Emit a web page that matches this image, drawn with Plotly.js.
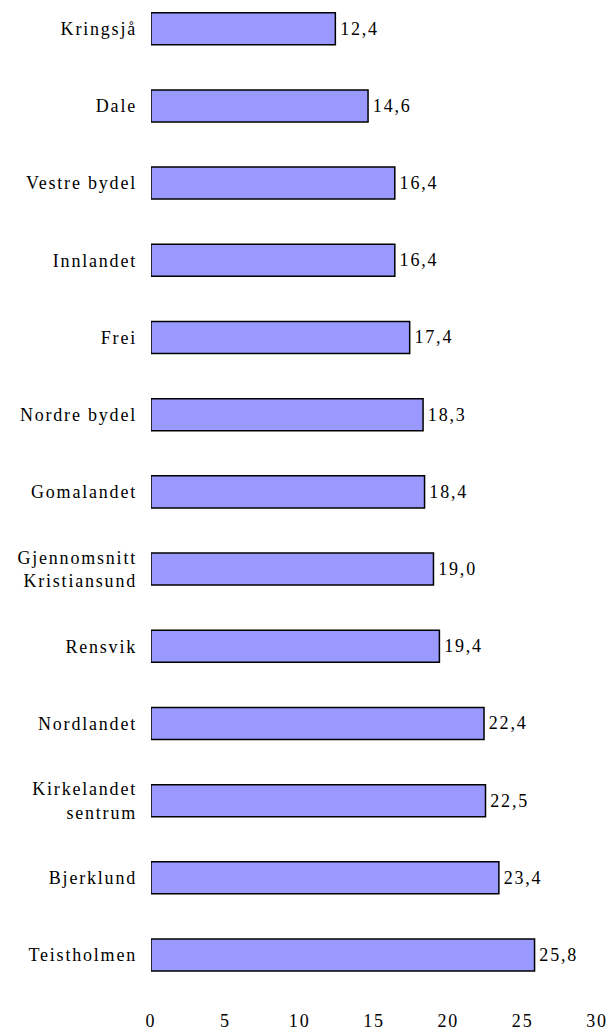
<!DOCTYPE html>
<html>
<head>
<meta charset="utf-8">
<script src="https://cdn.plot.ly/plotly-3.0.1.min.js"></script>
<style>
html,body{margin:0;padding:0;background:#fff;}
#chart text{letter-spacing:1.8px;}
</style>
</head>
<body>
<div id="chart" style="width:611px;height:1032px;"></div>
<script>
const categories = ["Kringsjå","Dale","Vestre bydel","Innlandet","Frei","Nordre bydel","Gomalandet","Gjennomsnitt<br>Kristiansund","Rensvik","Nordlandet","Kirkelandet<br>sentrum","Bjerklund","Teistholmen"];
const values = [12.4,14.6,16.4,16.4,17.4,18.3,18.4,19.0,19.4,22.4,22.5,23.4,25.8];
const xTicks = [0,5,10,15,20,25,30];

const labels = values.map(v => '\u00a0' + v.toFixed(1).replace('.', ','));
const font = {family: "Liberation Serif, Times New Roman, serif", size: 18, color: "#000"};

Plotly.newPlot('chart', [{
  type: 'bar',
  orientation: 'h',
  x: values,
  y: categories,
  text: labels,
  textposition: 'outside',
  textfont: font,
  cliponaxis: false,
  width: 0.415,
  marker: {color: '#9999FF', line: {color: '#000', width: 1.5}},
  hoverinfo: 'none'
}], {
  width: 611, height: 1032,
  margin: {l: 151, r: 14, t: 0, b: 26},
  paper_bgcolor: '#fff', plot_bgcolor: '#fff',
  showlegend: false,
  font: font,
  xaxis: {
    range: [0, 30], tickvals: xTicks, ticktext: xTicks.map(String),
    showgrid: false, zeroline: false, showline: false, ticks: '',
    tickfont: font, ticklabelstandoff: 2
  },
  yaxis: {
    type: 'category',
    range: [12.66, -0.372],
    showgrid: false, zeroline: false, showline: false, ticks: '',
    tickfont: font, ticklabelstandoff: 13
  }
}, {displayModeBar: false, staticPlot: true});
</script>
</body>
</html>
